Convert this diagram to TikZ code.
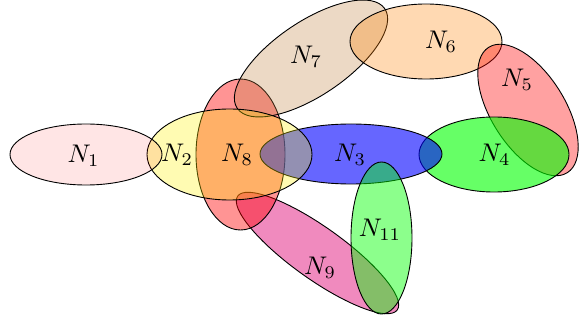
\documentclass[tikz,border=0pt]{standalone}
\usetikzlibrary{shapes.geometric}
\definecolor{c9}{RGB}{225,21,125}
\tikzset{
  hyper/.style={ellipse, draw=black, line width=0.9pt, inner sep=0pt, outer sep=0pt},
  lab/.style={inner sep=0pt}
}
\newcommand{\lbl}[1]{\scalebox{2.55}{$#1$}}
\begin{document}
\begin{tikzpicture}[x=1pt,y=-1pt]
\useasboundingbox (0,0) rectangle (579,323);
% hyperedges (ellipses), back to front
\node[hyper, fill=c9, fill opacity=0.5, minimum width=196pt, minimum height=52pt, rotate=-35.5] (E9) at (317.5,253) {};
\node[hyper, fill=red, fill opacity=0.42, minimum width=89pt, minimum height=151pt] (E8) at (240.5,154.5) {};
\node[hyper, fill=brown, fill opacity=0.3, minimum width=178pt, minimum height=74pt, rotate=34] (E7) at (311,58.5) {};
\node[hyper, fill=orange, fill opacity=0.3, minimum width=152pt, minimum height=75pt] (E6) at (426,41.5) {};
\node[hyper, fill=red, fill opacity=0.37, minimum width=148pt, minimum height=74pt, rotate=-58] (E5) at (528,110) {};
\node[hyper, fill=green, fill opacity=0.6, minimum width=150pt, minimum height=75pt] (E4) at (494,154.5) {};
\node[hyper, fill=blue, fill opacity=0.6, minimum width=182pt, minimum height=60pt] (E3) at (351,154) {};
\node[hyper, fill=yellow, fill opacity=0.3, minimum width=165pt, minimum height=91pt] (E2) at (229.5,154.5) {};
\node[hyper, fill=red, fill opacity=0.1, minimum width=152pt, minimum height=61pt] (E1) at (86,154.5) {};
\node[hyper, fill=green, fill opacity=0.45, minimum width=61pt, minimum height=152pt] (E11) at (381.5,238) {};
% labels
\node[lab] (L1) at (83.5,156) {\lbl{N_1}};
\node[lab] (L2) at (177,155) {\lbl{N_2}};
\node[lab] (L8) at (237,155) {\lbl{N_8}};
\node[lab] (L3) at (350,155) {\lbl{N_3}};
\node[lab] (L4) at (494.5,155) {\lbl{N_4}};
\node[lab] (L5) at (517,80) {\lbl{N_5}};
\node[lab] (L6) at (441,42) {\lbl{N_6}};
\node[lab] (L7) at (306,57) {\lbl{N_7}};
\node[lab] (L9) at (320,268) {\lbl{N_9}};
\node[lab] (L11) at (380,230) {\lbl{N_{11}}};
\end{tikzpicture}
\end{document}
